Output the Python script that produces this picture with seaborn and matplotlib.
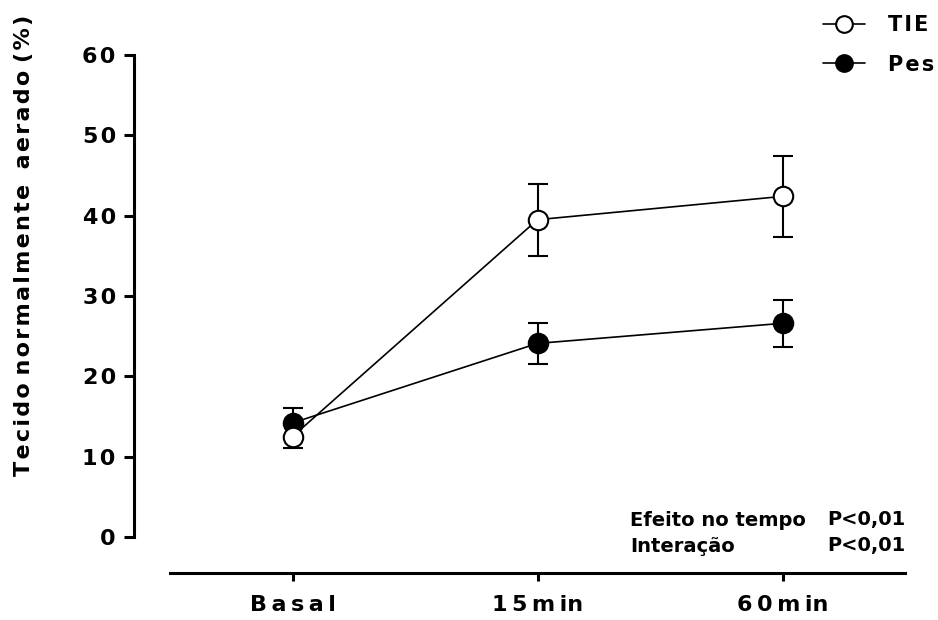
import numpy as np
import pandas as pd
import matplotlib
matplotlib.use('Agg')
import matplotlib.pyplot as plt
import seaborn as sns
from matplotlib.lines import Line2D

# dados (média e erro)
tempos = ['Basal', '15min', '60min']
tie_media = [12.5, 39.5, 42.4]
tie_erro = [1.4, 4.5, 5.0]
pes_media = [14.2, 24.1, 26.6]
pes_erro = [1.9, 2.6, 2.9]

sns.set_style('ticks')
plt.rcParams['font.family'] = ['DejaVu Sans']
plt.rcParams['font.weight'] = 'bold'
plt.rcParams['text.color'] = 'black'
plt.rcParams['xtick.color'] = 'black'
plt.rcParams['ytick.color'] = 'black'
plt.rcParams['axes.edgecolor'] = 'black'

# espaçamento entre letras, estilo GraphPad
HAIR = '\u200a'
THIN = '\u2009'

def esp(s, sep):
    return ' '.join(sep.join(p) for p in s.split(' '))

tick_labels = [esp('Basal', THIN), '1' + THIN + '5' + THIN + 'm' + THIN + 'in',
               '6' + THIN + '0' + THIN + 'm' + THIN + 'in']

df = pd.DataFrame({
    'tempo': list(range(len(tempos))) * 2,
    'valor': tie_media + pes_media,
    'grupo': ['TIE'] * 3 + ['Pes'] * 3,
})

fig = plt.figure(figsize=(9.38, 6.2), dpi=100)
ax = fig.add_axes([170/938, 83/620, 735/938, 482/620])

x = np.arange(len(tempos))
ax.errorbar(x, pes_media, yerr=pes_erro, fmt='none', ecolor='black', elinewidth=1.5,
            capsize=7, capthick=1.5, zorder=2)
ax.errorbar(x, tie_media, yerr=tie_erro, fmt='none', ecolor='black', elinewidth=1.5,
            capsize=7, capthick=1.5, zorder=2)
sns.lineplot(data=df[df['grupo'] == 'Pes'], x='tempo', y='valor', ax=ax, color='black',
             lw=1.2, marker='o', markersize=14, markerfacecolor='black',
             markeredgecolor='black', markeredgewidth=1.5, legend=False, zorder=3)
sns.lineplot(data=df[df['grupo'] == 'TIE'], x='tempo', y='valor', ax=ax, color='black',
             lw=1.2, marker='o', markersize=14, markerfacecolor='white',
             markeredgecolor='black', markeredgewidth=1.5, legend=False, zorder=4)

sns.despine(ax=ax)
ax.spines['left'].set_position(('outward', 26))
ax.spines['bottom'].set_position(('outward', 26))
ax.spines['left'].set_linewidth(2.2)
ax.spines['bottom'].set_linewidth(2.2)

ax.set_xlim(-0.5, 2.5)
ax.set_ylim(0, 60)
ax.set_xticks(x)
ax.set_xticklabels(tick_labels)
ax.set_yticks(range(0, 61, 10))
ax.set_yticklabels([HAIR.join(str(v)) for v in range(0, 61, 10)])
ax.set_xlabel(None)
ax.set_ylabel(None)
ax.tick_params(axis='y', length=7, width=2.2, pad=6, labelsize=16, colors='black')
ax.tick_params(axis='x', length=6, width=2.2, pad=10, labelsize=16, colors='black')

fig.text(24/938, 1 - 245/620, esp('Tecido normalmente  aerado (%)', HAIR),
         rotation=90, ha='center', va='center', fontsize=16, fontweight='bold')

# estatísticas
ax.text(630/938, 1 - 520/620, 'Efeito no tempo', transform=fig.transFigure,
        ha='left', va='center', fontsize=14, fontweight='bold')
ax.text(905/938, 1 - 520/620, 'P<0,01', transform=fig.transFigure,
        ha='right', va='center', fontsize=14, fontweight='bold')
ax.text(630/938, 1 - 546/620, 'Interação', transform=fig.transFigure,
        ha='left', va='center', fontsize=14, fontweight='bold')
ax.text(905/938, 1 - 546/620, 'P<0,01', transform=fig.transFigure,
        ha='right', va='center', fontsize=14, fontweight='bold')

handles = [
    Line2D([], [], color='black', lw=1.2, marker='o', markersize=12,
           markerfacecolor='white', markeredgecolor='black', markeredgewidth=1.5),
    Line2D([], [], color='black', lw=1.2, marker='o', markersize=12,
           markerfacecolor='black', markeredgecolor='black', markeredgewidth=1.5),
]
fig.legend(handles, [esp('TIE', HAIR), esp('Pes', HAIR)], loc='upper left',
           bbox_to_anchor=(823/938, 1 - 15/620), frameon=False, borderpad=0,
           borderaxespad=0, handlelength=2.0, handletextpad=1.1, labelspacing=0.95,
           prop={'size': 15, 'weight': 'bold'})

plt.savefig('out.png', dpi=100)
